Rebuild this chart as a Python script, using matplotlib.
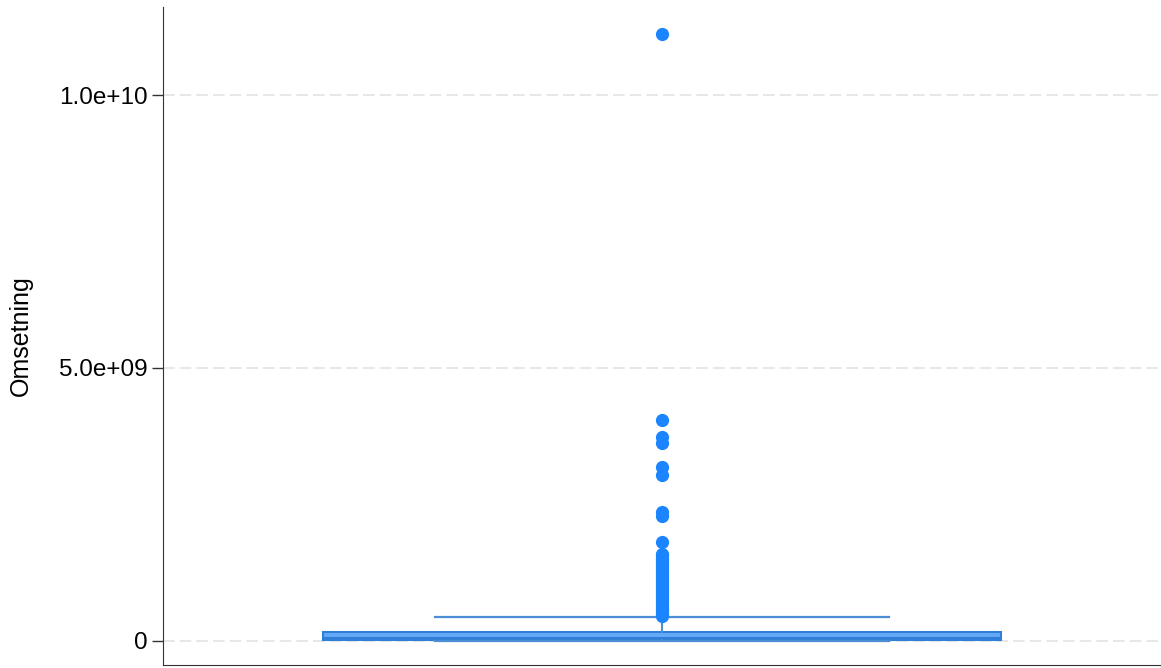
import matplotlib.pyplot as plt

plt.rcParams['font.family'] = ['Liberation Sans', 'DejaVu Sans']

# summary statistics of Omsetning
q1 = 1.5e7
median = 5.0e7
q3 = 1.6e8
whisker_lo = 0.0
whisker_hi = 4.3e8

# outside values (in units of 1e9)
outliers = [11.12, 4.05, 3.73, 3.63, 3.19, 3.04, 2.37, 2.29, 1.81,
            1.60, 1.57, 1.54, 1.51, 1.48, 1.45, 1.42, 1.39, 1.36, 1.33,
            1.30, 1.27, 1.24, 1.21, 1.18, 1.15, 1.12, 1.09, 1.06, 1.03,
            1.00, 0.97, 0.94, 0.91, 0.88, 0.85, 0.82, 0.79, 0.76, 0.73,
            0.70, 0.67, 0.64, 0.61, 0.58, 0.55, 0.52, 0.49, 0.46]

yticks = [0, 5e9, 1e10]
ytick_labels = ['0', '5.0e+09', '1.0e+10']

blue = '#1a85ff'

fig = plt.figure(figsize=(11.61, 6.68), dpi=100)
ax = fig.add_axes([0.1404, 0.0045, 0.8596, 0.985])

stats = [{
    'med': median, 'q1': q1, 'q3': q3,
    'whislo': whisker_lo, 'whishi': whisker_hi,
    'fliers': [v * 1e9 for v in outliers],
}]
ax.bxp(stats, positions=[0], widths=1.36, capwidths=[0.91],
       patch_artist=True, showfliers=True,
       boxprops=dict(facecolor='#63a9f7', edgecolor='#2f7fd8', linewidth=1.5),
       medianprops=dict(color='#2f7fd8', linewidth=1.5),
       whiskerprops=dict(color='#4c8ed6', linewidth=1.5),
       capprops=dict(color='#4c8ed6', linewidth=1.6),
       flierprops=dict(marker='o', markerfacecolor=blue, markeredgecolor=blue,
                       markersize=8.5, linestyle='none'))

ax.set_xlim(-1, 1)
ax.set_ylim(-4.4e8, 1.1612e10)
ax.set_xticks([])
ax.set_yticks(yticks)
ax.set_yticklabels(ytick_labels, fontsize=17.5)
ax.tick_params(axis='y', length=8, width=1, color='#333333', pad=3)
ax.set_ylabel('Omsetning', fontsize=18, labelpad=19)

ax.yaxis.grid(True, linestyle=(0, (7, 3)), color='#e3e3e3', linewidth=1.2)
ax.set_axisbelow(True)
for side in ['top', 'right']:
    ax.spines[side].set_visible(False)
ax.spines['left'].set_color('#333333')
ax.spines['bottom'].set_color('#333333')

fig.savefig('out.png', dpi=100)
